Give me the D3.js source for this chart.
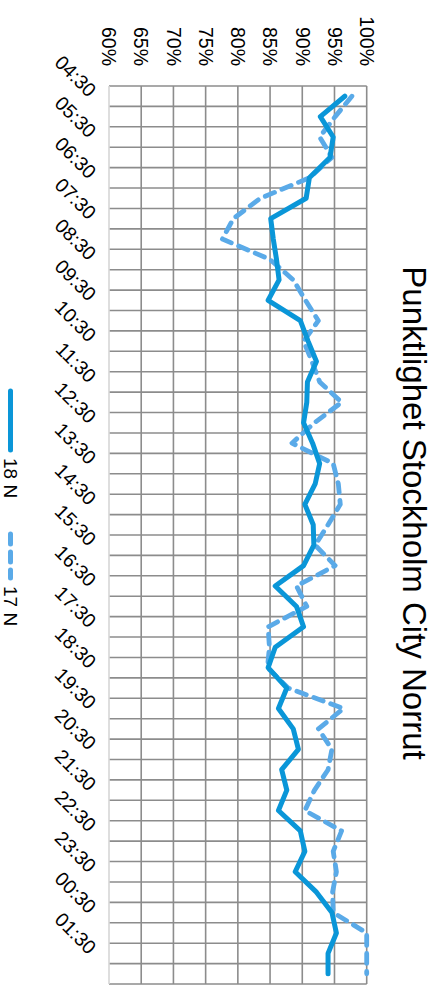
<!DOCTYPE html>
<html><head><meta charset="utf-8">
<script src="https://cdn.jsdelivr.net/npm/d3@7"></script>
<style>body{margin:0;background:#fff}svg{display:block}</style>
</head><body>
<script>
const times = ["04:30","05:00","05:30","06:00","06:30","07:00","07:30","08:00","08:30","09:00","09:30","10:00","10:30","11:00","11:30","12:00","12:30","13:00","13:30","14:00","14:30","15:00","15:30","16:00","16:30","17:00","17:30","18:00","18:30","19:00","19:30","20:00","20:30","21:00","21:30","22:00","22:30","23:00","23:30","00:00","00:30","01:00","01:30","02:00"];
const tickLabels = ["04:30","05:30","06:30","07:30","08:30","09:30","10:30","11:30","12:30","13:30","14:30","15:30","16:30","17:30","18:30","19:30","20:30","21:30","22:30","23:30","00:30","01:30"];
const series18N = [96.6,92.8,94.8,94.3,91.1,90.6,85.1,85.5,86.0,86.4,84.7,89.7,90.9,92.2,90.8,90.7,90.2,91.6,92.7,92.0,90.4,91.7,91.8,90.2,85.8,89.1,90.2,85.8,84.7,87.6,86.3,88.6,89.4,86.8,87.6,86.3,89.7,90.4,88.9,92.2,94.6,95.3,94.0,94.0];
const series17N = [97.7,95.1,92.7,94.6,91.1,83.5,79.3,77.6,85.0,88.6,90.5,92.5,90.2,91.5,92.7,96.1,91.9,88.4,94.8,95.6,95.9,94.0,92.0,95.1,89.1,90.7,84.7,84.9,84.6,87.8,96.4,92.5,94.6,94.0,91.9,90.4,96.1,94.8,95.3,94.7,94.8,100,100,100];
const percentTicks = [60,65,70,75,80,85,90,95,100];
const seriesNames = ["18 N","17 N"];
const title = "Punktlighet Stockholm City Norrut";

const W = 437, H = 987;   // page; chart drawn landscape (H x W) and rotated 90deg
const font = "Liberation Sans, Arial, Helvetica, sans-serif";
const c18 = "#0a96d8", c17 = "#5aaae8";

const svg = d3.select("body").append("svg").attr("width", W).attr("height", H);
const g = svg.append("g").attr("transform", `translate(${W},0) rotate(90)`);

const x = d3.scaleBand().domain(times).range([86, 984]).paddingInner(0).paddingOuter(0);
const y = d3.scaleLinear().domain([60, 100]).range([328, 70.3]);
const bw = x.bandwidth();

// gridlines
const grid = g.append("g");
grid.selectAll("line.h").data(percentTicks.filter(d => d > 60)).join("line")
  .attr("x1", x.range()[0]).attr("x2", x.range()[1])
  .attr("y1", d => y(d)).attr("y2", d => y(d))
  .attr("stroke", "#8c8c8c").attr("stroke-width", 1.6);
const bounds = times.map(t => x(t)).concat([x.range()[1]]);
grid.selectAll("line.v").data(bounds).join("line")
  .attr("x1", d => d).attr("x2", d => d)
  .attr("y1", y(60)).attr("y2", y(100))
  .attr("stroke", "#8c8c8c").attr("stroke-width", 1.6);
grid.append("line")
  .attr("x1", x.range()[0]).attr("x2", x.range()[1])
  .attr("y1", y(60)).attr("y2", y(60))
  .attr("stroke", "#d6d6d6").attr("stroke-width", 1.6);

// percent axis
const yAxis = g.append("g").attr("transform", `translate(${x.range()[0]},0)`)
  .call(d3.axisLeft(y).tickValues(percentTicks).tickFormat(d => d + "%").tickSize(0).tickPadding(20));
yAxis.select(".domain").remove();
yAxis.selectAll("text").attr("font-family", font).attr("font-size", 19.5).attr("fill", "#000");

// category axis
const xAxis = g.append("g").attr("transform", `translate(0,${y(60)})`)
  .call(d3.axisBottom(x).tickValues(tickLabels).tickSize(0).tickPadding(0));
xAxis.select(".domain").remove();
xAxis.selectAll("text")
  .attr("font-family", font).attr("font-size", 19.5).attr("fill", "#000")
  .attr("text-anchor", "end").attr("y", 0).attr("dy", 0)
  .attr("transform", "translate(2,21) rotate(-45)");

// lines
const line = d3.line().x((d, i) => x(times[i]) + bw / 2).y(d => y(d)).curve(d3.curveLinear);
g.append("path").datum(series17N).attr("d", line)
  .attr("fill", "none").attr("stroke", c17).attr("stroke-width", 4.8)
  .attr("stroke-dasharray", "10,8").attr("stroke-linecap", "round").attr("stroke-linejoin", "round");
g.append("path").datum(series18N).attr("d", line)
  .attr("fill", "none").attr("stroke", c18).attr("stroke-width", 5)
  .attr("stroke-linecap", "round").attr("stroke-linejoin", "round");

// title
g.append("text").attr("x", 513).attr("y", 34).attr("text-anchor", "middle")
  .attr("font-family", font).attr("font-size", 33).attr("fill", "#000").text(title);

// legend
const ly = 426.5;
const leg = [
  {name: seriesNames[0], color: c18, dash: null, x1: 391, x2: 450, tx: 458},
  {name: seriesNames[1], color: c17, dash: "10,8", x1: 534, x2: 578, tx: 586}
];
const lg = g.append("g");
leg.forEach(l => {
  lg.append("line").attr("x1", l.x1).attr("x2", l.x2).attr("y1", ly).attr("y2", ly)
    .attr("stroke", l.color).attr("stroke-width", 5).attr("stroke-linecap", "round")
    .attr("stroke-dasharray", l.dash);
  lg.append("text").attr("x", l.tx).attr("y", ly).attr("dy", "0.35em")
    .attr("font-family", font).attr("font-size", 19).attr("fill", "#000").text(l.name);
});
</script>
</body></html>
